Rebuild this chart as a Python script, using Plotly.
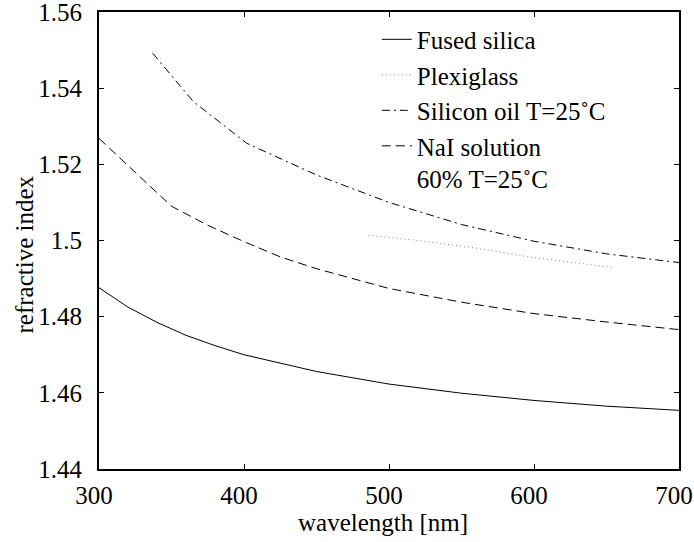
import plotly.graph_objects as go

# Fused silica
fs_x = [300, 320, 340, 360, 380, 400, 450, 500, 550, 600, 650, 700]
fs_y = [1.4876, 1.4825, 1.4785, 1.4751, 1.4724, 1.4700, 1.4656, 1.4623, 1.4599, 1.4580, 1.4565, 1.4554]

# Plexiglass
px_x = [486, 520, 560, 600, 655]
px_y = [1.5014, 1.5000, 1.4980, 1.4955, 1.4929]

# Silicon oil T=25°C
so_x = [337, 365, 402, 450, 500, 550, 600, 650, 700]
so_y = [1.5492, 1.5365, 1.5255, 1.5172, 1.5100, 1.5042, 1.4998, 1.4965, 1.4942]

# NaI solution 60% T=25°C
na_x = [300, 330, 350, 375, 400, 425, 450, 500, 550, 600, 650, 700]
na_y = [1.5268, 1.5160, 1.5090, 1.5040, 1.4997, 1.4957, 1.4926, 1.4874, 1.4838, 1.4808, 1.4786, 1.4766]

x_ticks = [300, 400, 500, 600, 700]
y_ticks = [1.44, 1.46, 1.48, 1.50, 1.52, 1.54, 1.56]
y_ticktext = ["1.44", "1.46", "1.48", "1.5", "1.52", "1.54", "1.56"]

FONT = "Liberation Serif, Tinos, Nimbus Roman, DejaVu Serif, serif"

fig = go.Figure()
fig.add_trace(go.Scatter(x=fs_x, y=fs_y, mode="lines", name="Fused silica",
                         line=dict(color="black", width=1), legendgroup="a"))
fig.add_trace(go.Scatter(x=px_x, y=px_y, mode="lines", name="Plexiglass",
                         line=dict(color="#888888", width=1, dash="1px,3px"), legendgroup="b"))
fig.add_trace(go.Scatter(x=so_x, y=so_y, mode="lines", name="Silicon oil T=25˚C",
                         line=dict(color="black", width=1, dash="8px,4px,2px,4px"), legendgroup="c"))
fig.add_trace(go.Scatter(x=na_x, y=na_y, mode="lines", name="NaI solution<br>60% T=25˚C",
                         line=dict(color="black", width=1, dash="9px,5px"), legendgroup="d"))

axis_common = dict(showline=True, linecolor="black", linewidth=2, mirror="ticks",
                   ticks="inside", ticklen=5, tickwidth=1, tickcolor="black",
                   showgrid=False, zeroline=False, ticklabeloverflow="allow", automargin=False,
                   tickfont=dict(family=FONT, size=25, color="black"))

fig.update_xaxes(range=[300, 700], tickvals=x_ticks, ticklabelshift=-5, ticklabelstandoff=3,
                 **axis_common)
fig.update_yaxes(range=[1.44, 1.56], tickvals=y_ticks, ticktext=y_ticktext, ticklabelstandoff=10,
                 **axis_common)

fig.add_annotation(text="wavelength [nm]", xref="paper", yref="paper", x=0.5, y=0,
                   xanchor="center", yanchor="middle", xshift=-6, yshift=-53, showarrow=False,
                   font=dict(family=FONT, size=25, color="black"))
fig.add_annotation(text="refractive index", xref="paper", yref="paper", x=0, y=0.5,
                   xanchor="center", yanchor="middle", xshift=-75, yshift=-14, showarrow=False,
                   textangle=-90, font=dict(family=FONT, size=25, color="black"))

fig.update_layout(
    width=694, height=542,
    margin=dict(l=99, r=15, t=12, b=73, autoexpand=False),
    plot_bgcolor="white", paper_bgcolor="white",
    font=dict(family=FONT, color="black"),
    legend=dict(x=0.479, y=0.99, xanchor="left", yanchor="top",
                font=dict(family=FONT, size=25, color="black"),
                bgcolor="rgba(0,0,0,0)", tracegroupgap=0, valign="top"),
)

fig.write_html("out.html")
